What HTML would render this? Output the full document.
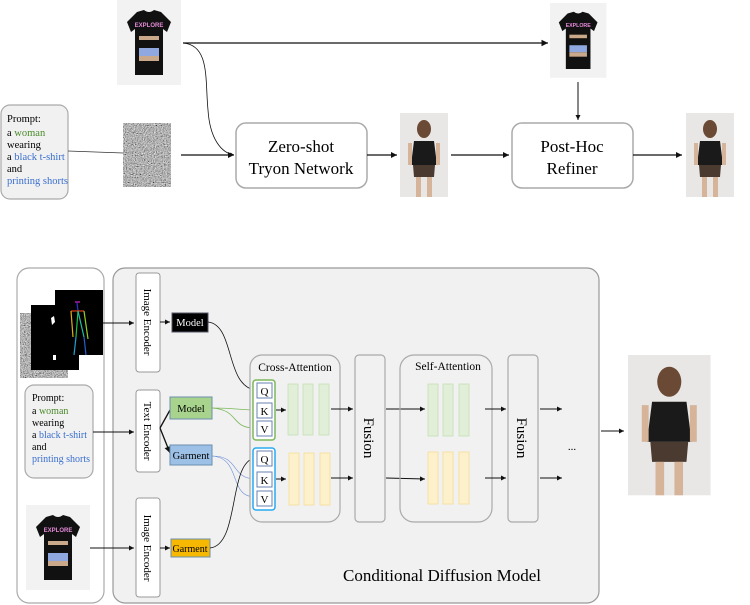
<!DOCTYPE html>
<html><head><meta charset="utf-8"><style>
html,body{margin:0;padding:0;background:#fff}
svg{display:block;font-family:"Liberation Serif",serif}
</style></head><body>
<svg width="750" height="605" viewBox="0 0 750 605" xmlns="http://www.w3.org/2000/svg">
<defs>
<marker id="a" markerWidth="6" markerHeight="6" refX="5" refY="3" orient="auto"><path d="M0,0.5 L5,3 L0,5.5z" fill="#111"/></marker>
<marker id="ag" markerWidth="6" markerHeight="6" refX="5" refY="3" orient="auto"><path d="M0,0.5 L5,3 L0,5.5z" fill="#7cb85a"/></marker>
<marker id="ab" markerWidth="6" markerHeight="6" refX="5" refY="3" orient="auto"><path d="M0,0.5 L5,3 L0,5.5z" fill="#6d8fd6"/></marker>
<filter id="n" x="0" y="0" width="100%" height="100%"><feTurbulence type="fractalNoise" baseFrequency="0.9" numOctaves="1" seed="3"/><feColorMatrix type="matrix" values="0.33 0.33 0.33 0 0 0.33 0.33 0.33 0 0 0.33 0.33 0.33 0 0 0 0 0 0 1"/><feComponentTransfer><feFuncR type="linear" slope="2.2" intercept="-0.65"/><feFuncG type="linear" slope="2.2" intercept="-0.65"/><feFuncB type="linear" slope="2.2" intercept="-0.65"/></feComponentTransfer></filter>
<g id="tee">
<rect x="0" y="0" width="64" height="85" fill="#f2f2f2"/>
<path d="M20,12 L27,10 Q32,14 37,10 L44,12 L54,22 L50,32 L46,29 L46,75 L18,75 L18,29 L14,32 L10,22 Z" fill="#111"/>
<text x="32" y="27" font-size="6" text-anchor="middle" fill="#e58ad8" font-family="Liberation Sans,sans-serif" font-weight="bold">EXPLORE</text>
<rect x="22" y="36" width="20" height="4" fill="#c9a98a"/>
<rect x="22" y="48" width="20" height="8" fill="#8fa8e0"/>
<rect x="22" y="56" width="20" height="5" fill="#c9a98a"/>
</g>
<g id="person">
<rect x="0" y="0" width="48" height="84" fill="#e9e7e5"/>
<ellipse cx="24" cy="16" rx="7" ry="9" fill="#6b4a35"/>
<path d="M14,28 L34,28 L37,52 L11,52 Z" fill="#1a1a1a"/>
<path d="M13,52 L35,52 L34,64 L14,64 Z" fill="#4a3a30"/>
<rect x="16" y="64" width="5" height="20" fill="#d6b49a"/><rect x="27" y="64" width="5" height="20" fill="#d6b49a"/>
<rect x="8" y="30" width="4" height="22" fill="#d6b49a"/><rect x="36" y="30" width="4" height="22" fill="#d6b49a"/>
</g>
</defs>

<!-- TOP -->
<use href="#tee" x="117" y="0"/>
<use href="#tee" transform="translate(550,3) scale(0.88)"/>
<rect x="1" y="105" width="67" height="94" rx="9" fill="#f1f1f1" stroke="#aaa" stroke-width="1.2"/>
<g font-size="10.5">
<text x="7" y="122">Prompt:</text>
<text x="7" y="136">a <tspan fill="#4a8a2a">woman</tspan></text>
<text x="7" y="148">wearing</text>
<text x="7" y="160">a <tspan fill="#3a6fd0">black t-shirt</tspan></text>
<text x="7" y="172">and</text>
<text x="7" y="184"><tspan fill="#3a6fd0">printing shorts</tspan></text>
</g>
<line x1="68" y1="151" x2="123" y2="153" stroke="#333" stroke-width="0.8"/>
<rect x="123" y="123" width="48" height="64" fill="#777" filter="url(#n)"/>
<line x1="181" y1="155" x2="234" y2="155" stroke="#111" stroke-width="1.2" marker-end="url(#a)"/>
<path d="M183,43 C210,45 205,80 208,110 C210,140 222,153 234,155" fill="none" stroke="#111" stroke-width="0.8" marker-end="url(#a)"/>
<line x1="183" y1="43" x2="548" y2="43" stroke="#111" stroke-width="1.3" marker-end="url(#a)"/>
<rect x="236" y="123" width="131" height="65" rx="10" fill="#fff" stroke="#aaa" stroke-width="1.5"/>
<text x="301" y="152" font-size="17" text-anchor="middle">Zero-shot</text>
<text x="301" y="174" font-size="17" text-anchor="middle">Tryon Network</text>
<line x1="367" y1="155" x2="397" y2="155" stroke="#111" stroke-width="1.2" marker-end="url(#a)"/>
<use href="#person" x="400" y="113"/>
<line x1="451" y1="155" x2="509" y2="155" stroke="#111" stroke-width="1.2" marker-end="url(#a)"/>
<line x1="578" y1="82" x2="578" y2="120" stroke="#111" stroke-width="1" marker-end="url(#a)"/>
<rect x="512" y="123" width="121" height="65" rx="10" fill="#fff" stroke="#aaa" stroke-width="1.5"/>
<text x="572" y="152" font-size="17" text-anchor="middle">Post-Hoc</text>
<text x="572" y="174" font-size="17" text-anchor="middle">Refiner</text>
<line x1="633" y1="155" x2="682" y2="155" stroke="#111" stroke-width="1.2" marker-end="url(#a)"/>
<use href="#person" x="686" y="113"/>

<!-- BOTTOM -->
<rect x="17" y="268" width="87" height="335" rx="12" fill="#fff" stroke="#aaa" stroke-width="1.2"/>
<rect x="113" y="268" width="486" height="335" rx="12" fill="#f1f1f1" stroke="#999" stroke-width="1.2"/>
<rect x="20" y="313" width="48" height="65" fill="#777" filter="url(#n)"/>
<rect x="31" y="305" width="48" height="65" fill="#000"/>
<path d="M51,318 l3,-2 l1,6 l-3,3z M53,355 l3,0 l0,5 l-3,0z" fill="#fff"/>
<rect x="55" y="290" width="48" height="65" fill="#000"/>
<g stroke-width="1.2" fill="none">
<line x1="75" y1="302" x2="80" y2="302" stroke="#d020d0"/>
<line x1="77" y1="303" x2="78" y2="311" stroke="#3030d0"/>
<line x1="71" y1="311" x2="84" y2="311" stroke="#e04010"/>
<line x1="71" y1="311" x2="73" y2="337" stroke="#e0b010"/>
<line x1="84" y1="311" x2="88" y2="339" stroke="#90d020"/>
<line x1="78" y1="311" x2="76" y2="337" stroke="#20c050"/>
<line x1="78" y1="311" x2="84" y2="337" stroke="#20c0a0"/>
<line x1="76" y1="337" x2="74" y2="355" stroke="#20a0d0"/>
<line x1="84" y1="337" x2="86" y2="355" stroke="#2060d0"/>
</g>
<rect x="25" y="385" width="68" height="93" rx="9" fill="#f1f1f1" stroke="#aaa" stroke-width="1.2"/>
<g font-size="10">
<text x="32" y="401">Prompt:</text>
<text x="32" y="414">a <tspan fill="#4a8a2a">woman</tspan></text>
<text x="32" y="426">wearing</text>
<text x="32" y="438">a <tspan fill="#3a6fd0">black t-shirt</tspan></text>
<text x="32" y="450">and</text>
<text x="32" y="462"><tspan fill="#3a6fd0">printing shorts</tspan></text>
</g>
<use href="#tee" x="26" y="505"/>

<line x1="103" y1="323" x2="134" y2="323" stroke="#111" stroke-width="1" marker-end="url(#a)"/>
<line x1="93" y1="432" x2="134" y2="432" stroke="#111" stroke-width="1" marker-end="url(#a)"/>
<line x1="90" y1="548" x2="134" y2="548" stroke="#111" stroke-width="1" marker-end="url(#a)"/>

<g fill="#fff" stroke="#999" stroke-width="1">
<rect x="136" y="273" width="24" height="99" rx="3"/>
<rect x="136" y="390" width="24" height="82" rx="3"/>
<rect x="136" y="498" width="24" height="99" rx="3"/>
</g>
<g font-size="11">
<text transform="translate(144,322) rotate(90)" text-anchor="middle">Image Encoder</text>
<text transform="translate(144,431) rotate(90)" text-anchor="middle">Text Encoder</text>
<text transform="translate(144,548) rotate(90)" text-anchor="middle">Image Encoder</text>
</g>
<line x1="160" y1="322" x2="170" y2="322" stroke="#111" stroke-width="1" marker-end="url(#a)"/>
<path d="M160,428 L170,410 M160,428 L170,453" stroke="#111" stroke-width="1.3" marker-end="url(#a)" fill="none"/>
<line x1="160" y1="548" x2="170" y2="548" stroke="#111" stroke-width="1" marker-end="url(#a)"/>

<rect x="172" y="313" width="36" height="19" fill="#000" stroke="#556" stroke-width="1"/>
<text x="190" y="326" font-size="10.5" fill="#fff" text-anchor="middle">Model</text>
<rect x="170" y="397" width="42" height="22" fill="#a8d38c" stroke="#6a8fb0" stroke-width="1"/>
<text x="191" y="412" font-size="10.5" text-anchor="middle">Model</text>
<rect x="170" y="445" width="42" height="20" fill="#9dc0e6" stroke="#6a8fb0" stroke-width="1"/>
<text x="191" y="459" font-size="10.5" text-anchor="middle">Garment</text>
<rect x="171" y="539" width="39" height="18" fill="#f6b800" stroke="#6a8fb0" stroke-width="1"/>
<text x="190" y="552" font-size="10" text-anchor="middle">Garment</text>

<path d="M208,322 C235,325 225,385 255,390" fill="none" stroke="#111" stroke-width="0.8" marker-end="url(#a)"/>
<path d="M212,408 C235,408 240,410 255,410" fill="none" stroke="#7cb85a" stroke-width="0.8" marker-end="url(#ag)"/>
<path d="M212,408 C240,410 230,428 255,428" fill="none" stroke="#7cb85a" stroke-width="0.8" marker-end="url(#ag)"/>
<path d="M212,456 C240,456 230,478 255,479" fill="none" stroke="#6d8fd6" stroke-width="0.6" marker-end="url(#ab)"/>
<path d="M212,456 C242,458 228,497 255,497" fill="none" stroke="#6d8fd6" stroke-width="0.6" marker-end="url(#ab)"/>
<path d="M210,548 C240,545 228,462 255,458" fill="none" stroke="#111" stroke-width="0.8" marker-end="url(#a)"/>

<rect x="250" y="355" width="90" height="167" rx="12" fill="#f1f1f1" stroke="#aaa" stroke-width="1.2"/>
<text x="295" y="371" font-size="11.5" text-anchor="middle">Cross-Attention</text>
<rect x="253" y="380" width="22" height="60" rx="3" fill="#fff" stroke="#7cb85a" stroke-width="1.5"/>
<rect x="253" y="448" width="22" height="62" rx="3" fill="#fff" stroke="#29aaf0" stroke-width="1.5"/>
<g fill="#fff" stroke="#6a7fb0" stroke-width="1">
<rect x="257" y="383" width="15" height="15"/><rect x="257" y="403" width="15" height="15"/><rect x="257" y="421" width="15" height="15"/>
<rect x="257" y="451" width="15" height="15"/><rect x="257" y="472" width="15" height="15"/><rect x="257" y="491" width="15" height="15"/>
</g>
<g font-size="11" text-anchor="middle">
<text x="264.5" y="395">Q</text><text x="264.5" y="415">K</text><text x="264.5" y="433">V</text>
<text x="264.5" y="463">Q</text><text x="264.5" y="484">K</text><text x="264.5" y="503">V</text>
</g>
<line x1="276" y1="410" x2="286" y2="410" stroke="#111" stroke-width="1" marker-end="url(#a)"/>
<line x1="276" y1="479" x2="286" y2="479" stroke="#111" stroke-width="1" marker-end="url(#a)"/>
<g fill="#e1efd8" stroke="#c4e0b4" stroke-width="0.8">
<rect x="288" y="384" width="10" height="51"/><rect x="303" y="384" width="10" height="51"/><rect x="319" y="384" width="10" height="51"/>
<rect x="428" y="384" width="10" height="52"/><rect x="443" y="384" width="10" height="52"/><rect x="459" y="384" width="10" height="52"/>
</g>
<g fill="#fdf1cc" stroke="#f5dc96" stroke-width="0.8">
<rect x="289" y="453" width="10" height="52"/><rect x="304" y="453" width="10" height="52"/><rect x="320" y="453" width="10" height="52"/>
<rect x="428" y="452" width="10" height="52"/><rect x="443" y="452" width="10" height="52"/><rect x="459" y="452" width="10" height="52"/>
</g>
<line x1="331" y1="409" x2="353" y2="409" stroke="#111" stroke-width="1" marker-end="url(#a)"/>
<line x1="331" y1="478" x2="353" y2="478" stroke="#111" stroke-width="1" marker-end="url(#a)"/>
<rect x="355" y="355" width="30" height="167" rx="4" fill="#f1f1f1" stroke="#aaa" stroke-width="1.2"/>
<text transform="translate(364,438) rotate(90)" font-size="15" text-anchor="middle">Fusion</text>
<line x1="386" y1="409" x2="425" y2="409" stroke="#111" stroke-width="1" marker-end="url(#a)"/>
<line x1="386" y1="478" x2="425" y2="479" stroke="#111" stroke-width="1" marker-end="url(#a)"/>
<rect x="400" y="355" width="92" height="167" rx="14" fill="none" stroke="#aaa" stroke-width="1.2"/>
<text x="448" y="370" font-size="11.5" text-anchor="middle">Self-Attention</text>
<line x1="485" y1="409" x2="506" y2="409" stroke="#111" stroke-width="1" marker-end="url(#a)"/>
<line x1="485" y1="478" x2="506" y2="478" stroke="#111" stroke-width="1" marker-end="url(#a)"/>
<rect x="508" y="355" width="30" height="167" rx="4" fill="#f1f1f1" stroke="#aaa" stroke-width="1.2"/>
<text transform="translate(517,438) rotate(90)" font-size="15" text-anchor="middle">Fusion</text>
<line x1="540" y1="409" x2="562" y2="409" stroke="#111" stroke-width="1" marker-end="url(#a)"/>
<line x1="540" y1="478" x2="562" y2="478" stroke="#111" stroke-width="1" marker-end="url(#a)"/>
<text x="572" y="450" font-size="11" text-anchor="middle">...</text>
<text x="442" y="581" font-size="17" text-anchor="middle">Conditional Diffusion Model</text>
<line x1="601" y1="431" x2="624" y2="431" stroke="#111" stroke-width="1" marker-end="url(#a)"/>
<use href="#person" transform="translate(628,355) scale(1.72,1.67)"/>
</svg>
</body></html>
